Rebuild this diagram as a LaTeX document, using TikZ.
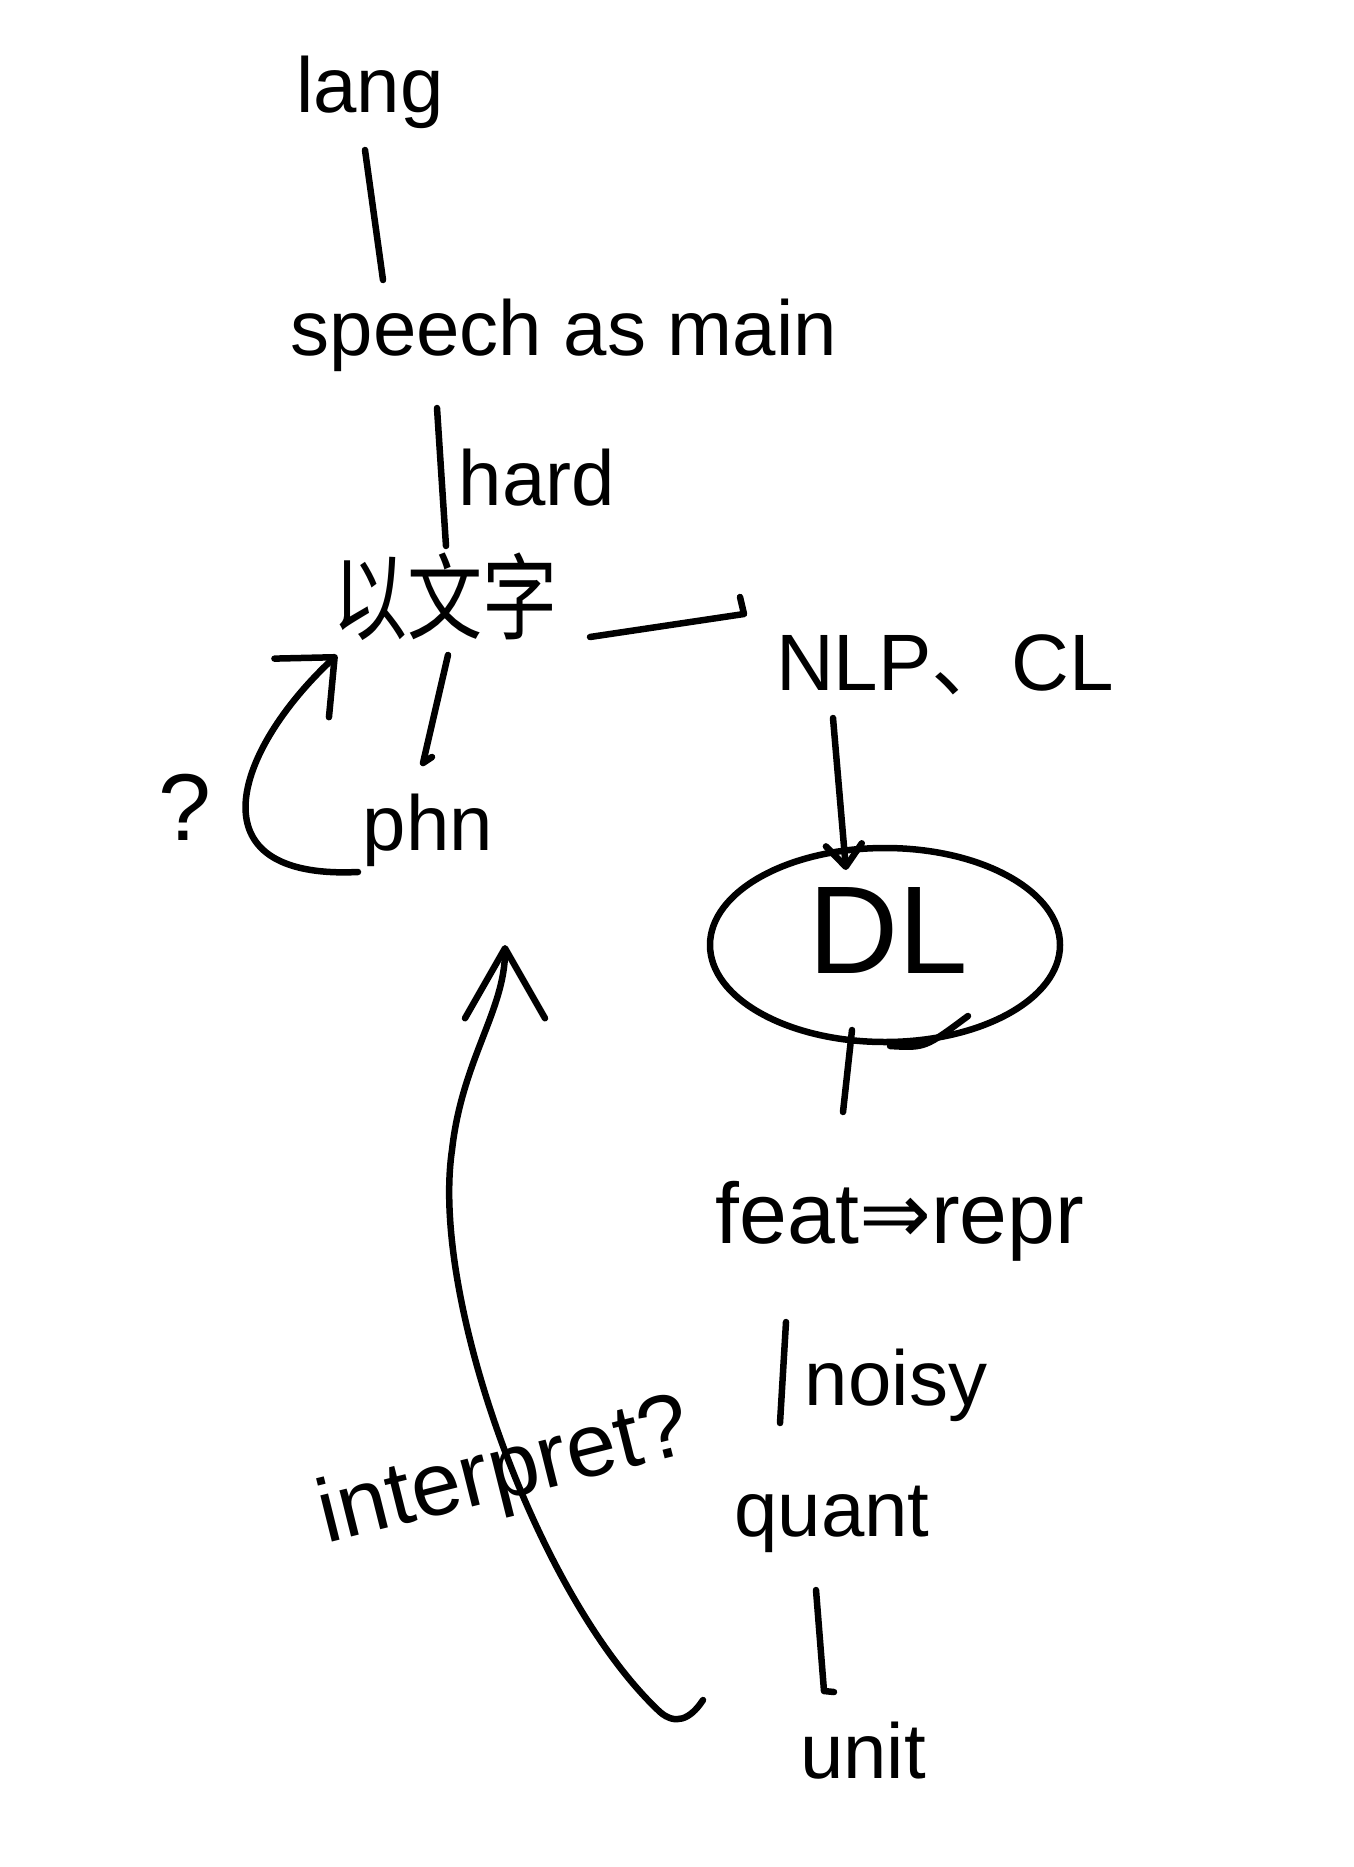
\documentclass[tikz,border=0pt]{standalone}
\usepackage{fontspec}
\setmainfont{Liberation Sans}
\newfontfamily\cjk{Noto Sans CJK SC}
\newfontfamily\dvsans{DejaVu Sans}
\usetikzlibrary{arrows.meta,shapes.geometric}

\begin{document}
\begin{tikzpicture}[
  x=1pt, y=-1pt,
  ln/.style={line width=6.5pt, line cap=round, line join=round},
  word/.style={anchor=base, inner sep=2pt, font=\fontsize{78}{90}\selectfont},
  ring/.style={ellipse, draw, line width=6.5pt, minimum width=350pt,
               minimum height=194pt, inner sep=0pt}
]
\path[use as bounding box, fill=white] (0,0) rectangle (1353,1867);

%% words
\node[word] (lang) at (370,113) {lang};
\node[word] (speech) at (564,355) {speech as main};
\node[word] (hard) at (537,505) {hard};
\node[word, font=\cjk\fontsize{94}{100}\selectfont] (wenzi) at (445,632) {\scalebox{0.8}[1]{以文字}};
\node[word, font=\fontsize{80}{90}\selectfont] (nlp) at (945,690) {NLP{\cjk 、}CL};
\node[word] (phn) at (428,850) {phn};
\node[word, font=\fontsize{95}{100}\selectfont] (qmark) at (185,840) {?};
\node[ring] (ring) at (885,945) {};
\node[word, font=\fontsize{125}{130}\selectfont] (dl) at (888,973) {DL};
\node[word, font=\fontsize{86}{90}\selectfont] (feat) at (900,1243) {feat{\dvsans ⇒}repr};
\node[word] (noisy) at (896,1405) {noisy};
\node[word] (quant) at (832,1536) {quant};
\node[word] (unit) at (863,1778) {unit};
\node[word, anchor=center, rotate=14, font=\fontsize{90}{100}\selectfont] (interp) at (505,1475) {interpret?};

%% connectors
\draw[ln] ([shift={(-5,37)}]lang.base) -- ([shift={(-181,-75)}]speech.base);
\draw[ln] ([shift={(-127,53)}]speech.base) -- ([shift={(1,-86)}]wenzi.base);
\draw[ln] ([shift={(145,5)}]wenzi.base) -- ([shift={(-201,-76)}]nlp.base) -- ++(-4,-17);
\draw[ln] ([shift={(3,23)}]wenzi.base) -- ([shift={(-5,-87)}]phn.base) -- ++(9,-6);
\draw[ln, -{Straight Barb[length=45pt,width=80pt,round]}]
  ([shift={(-70,22)}]phn.base) .. controls (190,880) and (235,750) .. ([shift={(-108,23)}]wenzi.base);
\draw[ln, -{Straight Barb[length=22pt,width=36pt,round]}]
  ([shift={(-112,28)}]nlp.base) -- ([shift={(-42,-103)}]dl.base);
\draw[ln] ([shift={(5,101)}]ring.center) .. controls (925,1048) .. ([shift={(83,71)}]ring.center);
\draw[ln] ([shift={(-33,85)}]ring.center) -- ([shift={(-57,-131)}]feat.base);
\draw[ln] ([shift={(-114,79)}]feat.base) -- ([shift={(-52,-113)}]quant.base);
\draw[ln] ([shift={(-16,54)}]quant.base) -- ([shift={(-39,-87)}]unit.base) -- ++(10,1);

%% back from unit to phn
\draw[ln, -{Straight Barb[length=70pt,width=80pt,round]}]
  ([shift={(-160,-78)}]unit.base) .. controls (690,1720) and (675,1725) .. (660,1712)
  .. controls (540,1600) and (430,1300) .. (452,1150)
  .. controls (462,1060) and (505,1010) .. ([shift={(77,95)}]phn.base);
\end{tikzpicture}
\end{document}
